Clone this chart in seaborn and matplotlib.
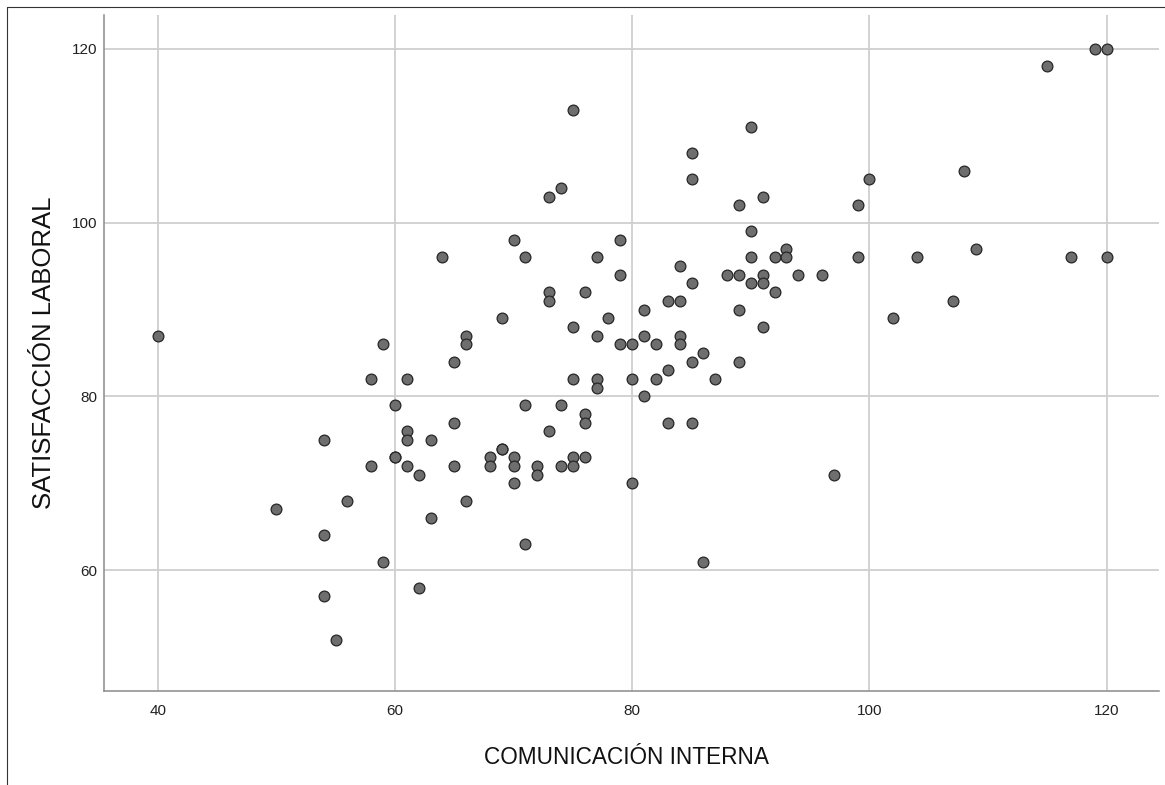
import matplotlib
matplotlib.use("Agg")
import matplotlib.pyplot as plt
from matplotlib.lines import Line2D
import pandas as pd
import seaborn as sns

# Values (x = comunicación, y = satisfacción)
comunicacion = [
    40, 50, 54, 54, 54, 55, 56, 58, 58, 59, 59,
    60, 60, 60, 61, 61, 61, 61, 62, 62, 63, 63, 64,
    65, 65, 65, 66, 66, 66, 68, 68, 69, 69, 69,
    70, 70, 70, 70, 71, 71, 71, 72, 72,
    73, 73, 73, 73, 74, 74, 74, 75, 75, 75, 75, 75,
    76, 76, 76, 76, 77, 77, 77, 77, 78, 79, 79, 79,
    80, 80, 80, 81, 81, 81, 82, 82, 83, 83, 83,
    84, 84, 84, 84, 85, 85, 85, 85, 85, 86, 86, 87, 88,
    89, 89, 89, 89, 90, 90, 90, 90, 91, 91, 91, 91,
    92, 92, 93, 93, 94, 96, 97, 99, 99, 100, 102, 104,
    107, 108, 109, 115, 117, 119, 120, 120,
]
satisfaccion = [
    87, 67, 75, 64, 57, 52, 68, 82, 72, 86, 61,
    79, 73, 73, 82, 76, 75, 72, 71, 58, 75, 66, 96,
    84, 77, 72, 87, 86, 68, 73, 72, 89, 74, 74,
    98, 73, 72, 70, 96, 79, 63, 72, 71,
    103, 92, 91, 76, 104, 79, 72, 113, 88, 82, 73, 72,
    92, 78, 77, 73, 96, 87, 82, 81, 89, 98, 94, 86,
    86, 82, 70, 90, 87, 80, 86, 82, 91, 83, 77,
    95, 91, 87, 86, 108, 105, 93, 84, 77, 85, 61, 82, 94,
    102, 94, 90, 84, 111, 99, 96, 93, 103, 94, 93, 88,
    96, 92, 97, 96, 94, 94, 71, 102, 96, 105, 89, 96,
    91, 106, 97, 118, 96, 120, 120, 96,
]
x_ticks = [40, 60, 80, 100, 120]
y_ticks = [60, 80, 100, 120]

df = pd.DataFrame({"COMUNICACIÓN INTERNA": comunicacion,
                   "SATISFACCIÓN LABORAL": satisfaccion})

sns.set_style("whitegrid")
plt.rcParams["font.family"] = ["Liberation Sans", "DejaVu Sans"]

fig = plt.figure(figsize=(11.65, 7.85), dpi=100)
ax = fig.add_axes([0.0895, 0.1197, 0.9053, 0.8612])

sns.scatterplot(data=df, x="COMUNICACIÓN INTERNA", y="SATISFACCIÓN LABORAL",
                ax=ax, s=60, color="#6e6e6e", edgecolor="#262626",
                linewidth=0.9, zorder=3)

ax.set_xlim(35.5, 124.4)
ax.set_ylim(46.1, 123.9)
ax.set_xticks(x_ticks)
ax.set_yticks(y_ticks)

ax.grid(True, color="#cfcfcf", linewidth=1.3)
ax.set_axisbelow(True)
for side in ["top", "right"]:
    ax.spines[side].set_visible(False)
for side in ["left", "bottom"]:
    ax.spines[side].set_color("#8a8a8a")
    ax.spines[side].set_linewidth(1.1)

ax.tick_params(axis="x", length=0, pad=9, labelsize=11, labelcolor="#222222")
ax.tick_params(axis="y", length=0, pad=5, labelsize=11, labelcolor="#222222")

ax.set_xlabel("COMUNICACIÓN INTERNA", fontsize=16.3, color="#111111")
ax.set_ylabel("SATISFACCIÓN LABORAL", fontsize=18.5, color="#111111")
ax.xaxis.label.set_va("center")
ax.yaxis.label.set_va("center")
ax.xaxis.set_label_coords(0.495, -0.0976)
ax.yaxis.set_label_coords(-0.0576, 0.5)

# thin frame around the output, as in the exported picture
fig.add_artist(Line2D([0.0063, 1.0], [0.9915, 0.9915], transform=fig.transFigure,
                      color="#333333", linewidth=0.8))
fig.add_artist(Line2D([0.0063, 0.0063], [0.0, 0.9915], transform=fig.transFigure,
                      color="#333333", linewidth=0.8))

fig.savefig("out.png", dpi=100)
